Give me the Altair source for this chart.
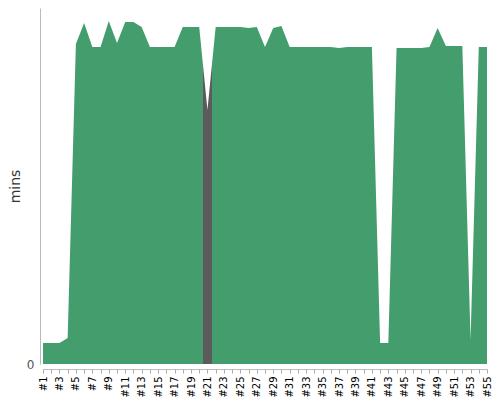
import altair as alt
import pandas as pd

labels = [f"#{i}" for i in range(1, 56)]
index = list(range(1, 56))
mins = [21, 21, 21, 26, 320, 341, 317, 317, 343, 321,
        342, 342, 337, 317, 317, 317, 317, 337, 337, 337,
        254, 337, 337, 337, 337, 336, 337, 317, 336, 338,
        317, 317, 317, 317, 317, 317, 316, 317, 317, 317,
        317, 21, 21, 316, 316, 316, 316, 317, 336, 318,
        318, 318, 24, 317, 317]

df = pd.DataFrame({"idx": index, "label": labels, "mins": mins})

green = "#449d6d"
grey = "#5b5b5b"
lo = (20 - 0.5) / 54
hi = (20 + 0.5) / 54
fill = alt.LinearGradient(
    gradient="linear", x1=0, x2=1, y1=0, y2=0,
    stops=[
        alt.GradientStop(color=green, offset=0),
        alt.GradientStop(color=green, offset=lo),
        alt.GradientStop(color=grey, offset=lo),
        alt.GradientStop(color=grey, offset=hi),
        alt.GradientStop(color=green, offset=hi),
        alt.GradientStop(color=green, offset=1),
    ],
)

chart = alt.Chart(df).mark_area(color=fill, interpolate="linear").encode(
    x=alt.X("idx:Q", scale=alt.Scale(domain=[1, 55], nice=False, zero=False),
            axis=alt.Axis(values=index, title=None, grid=False, offset=5,
                          labelAngle=-90, labelAlign="right", labelBaseline="middle",
                          labelExpr="datum.value % 2 == 1 ? '#' + datum.value : ''",
                          labelFontSize=10, labelColor="#000", labelFont="DejaVu Sans",
                          tickColor="#aaa", domainColor="#bbb", tickSize=4,
                          labelPadding=3, labelOverlap=False)),
    y=alt.Y("mins:Q", scale=alt.Scale(domain=[0, 356], nice=False),
            axis=alt.Axis(values=[0], title="mins", grid=False, ticks=False, offset=3,
                          domainColor="#bbb", labelColor="#555", labelFontSize=12,
                          labelFont="DejaVu Sans", titleFont="DejaVu Sans",
                          titleFontSize=14, titleFontWeight="normal", titleColor="#333",
                          titlePadding=4, labelPadding=6)),
).properties(
    width=444, height=356,
    autosize=alt.AutoSizeParams(type="none"),
    padding={"left": 35, "top": 0, "right": 5, "bottom": 36},
).configure_view(stroke=None)

chart.save("out.html", embed_options={"renderer": "svg", "actions": False})
